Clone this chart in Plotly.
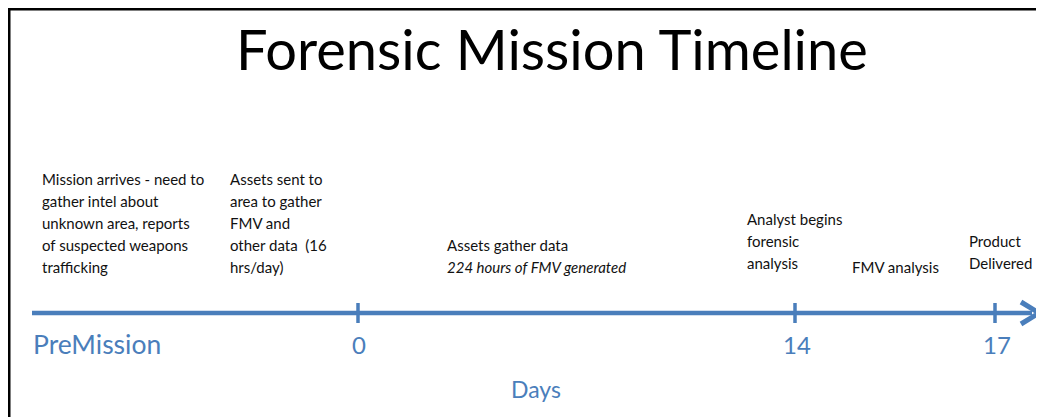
import plotly.graph_objects as go

# ---- data -------------------------------------------------------------
title_text = "Forensic Mission Timeline"
axis_title = "Days"
tick_labels = ["PreMission", "0", "14", "17"]
tick_marks = ["0", "14", "17"]          # labels that carry a tick on the line

event_blocks = [
    ["Mission arrives - need to", "gather intel about", "unknown area, reports",
     "of suspected weapons", "trafficking"],
    ["Assets sent to", "area to gather", "FMV and", "other data  (16", "hrs/day)"],
    ["Assets gather data", "<i>224 hours of FMV generated</i>"],
    ["Analyst begins", "forensic", "analysis"],
    ["FMV analysis"],
    ["Product", "Delivered"],
]

# ---- layout (schematic positions, in page pixels) ---------------------
PAGE_W, PAGE_H = 1044, 417
OFF = 8                                   # browser body margin
label_x = {"PreMission": 97, "0": 359, "14": 797, "17": 997}
label_size = {"PreMission": 26.5, "0": 24, "14": 24, "17": 24}
tick_x = {"0": 358, "14": 795, "17": 995}
block_x = [40, 228, 445, 745, 850, 967]
block_bottom = [267, 267, 267, 263, 267, 263]
line_gap = 22

BLUE = "#4a7ebb"
FONT = "Lato"

fig = go.Figure()

# timeline
LINE_Y = 313
fig.add_trace(go.Scatter(x=[32, 1032], y=[LINE_Y, LINE_Y], mode="lines",
                         line=dict(color=BLUE, width=4.5), hoverinfo="skip"))
# arrow head
fig.add_trace(go.Scatter(x=[1021, 1039, 1021], y=[LINE_Y - 11, LINE_Y, LINE_Y + 11],
                         mode="lines", line=dict(color=BLUE, width=5),
                         hoverinfo="skip"))
# ticks
for t in tick_marks:
    fig.add_trace(go.Scatter(x=[tick_x[t], tick_x[t]], y=[LINE_Y - 10, LINE_Y + 10],
                             mode="lines", line=dict(color=BLUE, width=3.5),
                             hoverinfo="skip"))

ann = []
# title
ann.append(dict(x=552, y=48, text=title_text, showarrow=False,
                font=dict(family=FONT, size=56, color="black"),
                xanchor="center", yanchor="middle"))
# tick labels
for lab in tick_labels:
    ann.append(dict(x=label_x[lab], y=344, text=lab, showarrow=False,
                    font=dict(family=FONT, size=label_size[lab], color=BLUE),
                    xanchor="center", yanchor="middle"))
ann.append(dict(x=536, y=389, text=axis_title, showarrow=False,
                font=dict(family=FONT, size=23, color=BLUE),
                xanchor="center", yanchor="middle"))
# event text blocks
for lines, bx, bb in zip(event_blocks, block_x, block_bottom):
    n = len(lines)
    for i, ln in enumerate(lines):
        ann.append(dict(x=bx, y=bb - (n - 1 - i) * line_gap, text=ln, showarrow=False,
                        font=dict(family=FONT, size=15, color="#111111"),
                        xanchor="left", yanchor="middle"))

fig.update_layout(
    width=PAGE_W - OFF, height=PAGE_H - OFF,
    margin=dict(l=0, r=0, t=0, b=0),
    paper_bgcolor="white", plot_bgcolor="white",
    showlegend=False,
    xaxis=dict(range=[OFF, PAGE_W], visible=False, fixedrange=True),
    yaxis=dict(range=[PAGE_H, OFF], visible=False, fixedrange=True),
    annotations=ann,
    shapes=[dict(type="rect", xref="x", yref="y", x0=9, y0=9, x1=PAGE_W + 20,
                 y1=PAGE_H + 20, line=dict(color="black", width=3), layer="above")],
)

fig.write_html("out.html")
